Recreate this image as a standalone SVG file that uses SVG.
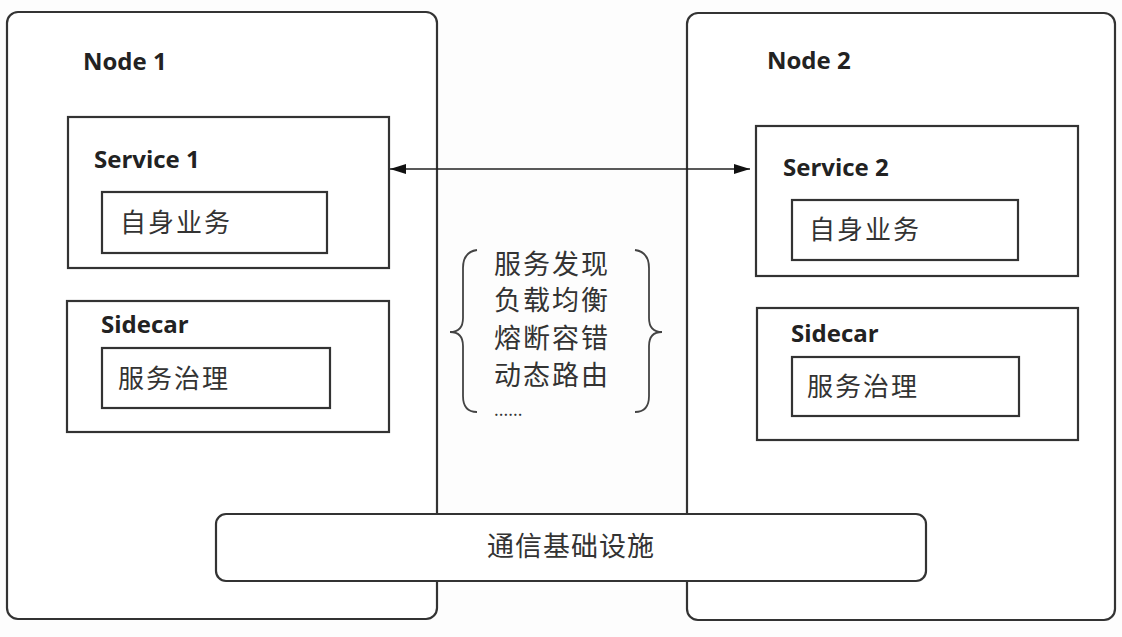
<svg xmlns="http://www.w3.org/2000/svg" width="1122" height="637" viewBox="0 0 1122 637">
<style>
.box{fill:#fff;stroke:#333;stroke-width:2.2}
.lbl{font-family:"Open Sans","Liberation Sans",sans-serif;font-weight:bold;fill:#222;font-size:24px}
.cjk{font-family:"Noto Sans CJK SC","Noto Sans CJK JP",sans-serif;fill:#333}
.brace{fill:none;stroke:#444;stroke-width:1.8}
</style>
<defs>
<marker id="ah" viewBox="0 0 16 10" refX="16" refY="5" markerWidth="16" markerHeight="10" markerUnits="userSpaceOnUse" orient="auto-start-reverse">
<path d="M0,0 L16,5 L0,10 Z" fill="#111"/>
</marker>
</defs>
<rect width="1122" height="637" fill="#fdfdfd"/>
<g id="node1">
<rect class="box" x="7" y="12" width="430" height="607" rx="11"/>
<text class="lbl" x="83" y="70">Node 1</text>
</g>
<g id="node2">
<rect class="box" x="687" y="13" width="428" height="607" rx="11"/>
<text class="lbl" x="767" y="69">Node 2</text>
</g>
<g id="service1">
<rect class="box" x="68" y="117" width="321" height="151"/>
<text class="lbl" x="94" y="168">Service 1</text>
<rect class="box" x="102" y="192" width="225" height="61"/>
<text class="cjk" x="120" y="232" font-size="26" letter-spacing="2">自身业务</text>
</g>
<g id="sidecar1">
<rect class="box" x="67" y="301" width="322" height="131"/>
<text class="lbl" x="101" y="333">Sidecar</text>
<rect class="box" x="102" y="348" width="228" height="60"/>
<text class="cjk" x="118" y="388" font-size="26" letter-spacing="2">服务治理</text>
</g>
<g id="service2">
<rect class="box" x="756" y="126" width="322" height="150"/>
<text class="lbl" x="783" y="176">Service 2</text>
<rect class="box" x="792" y="200" width="226" height="60"/>
<text class="cjk" x="809" y="239" font-size="26" letter-spacing="2">自身业务</text>
</g>
<g id="sidecar2">
<rect class="box" x="757" y="308" width="321" height="132"/>
<text class="lbl" x="791" y="342">Sidecar</text>
<rect class="box" x="792" y="357" width="227" height="59"/>
<text class="cjk" x="807" y="396" font-size="26" letter-spacing="2">服务治理</text>
</g>
<g id="features">
<path class="brace" d="M477,250 Q463,252 463,268 L463,318 Q463,332 450,332 Q463,332 463,346 L463,396 Q463,412 477,412"/>
<path class="brace" d="M635,250 Q649,252 649,268 L649,318 Q649,332 662,332 Q649,332 649,346 L649,396 Q649,412 635,412"/>
<g class="cjk" font-size="27" letter-spacing="2">
<text x="494" y="274">服务发现</text>
<text x="494" y="310">负载均衡</text>
<text x="494" y="348">熔断容错</text>
<text x="494" y="385">动态路由</text>
<text x="494" y="416" font-size="17" letter-spacing="0">......</text>
</g>
</g>
<g id="infra">
<rect class="box" x="216" y="514" width="710" height="67" rx="10"/>
<text class="cjk" x="571" y="556" font-size="27" text-anchor="middle" letter-spacing="1">通信基础设施</text>
</g>
<g id="connectors">
<line x1="390" y1="169" x2="750" y2="169" stroke="#222" stroke-width="1.6" marker-start="url(#ah)" marker-end="url(#ah)"/>
</g>
</svg>
